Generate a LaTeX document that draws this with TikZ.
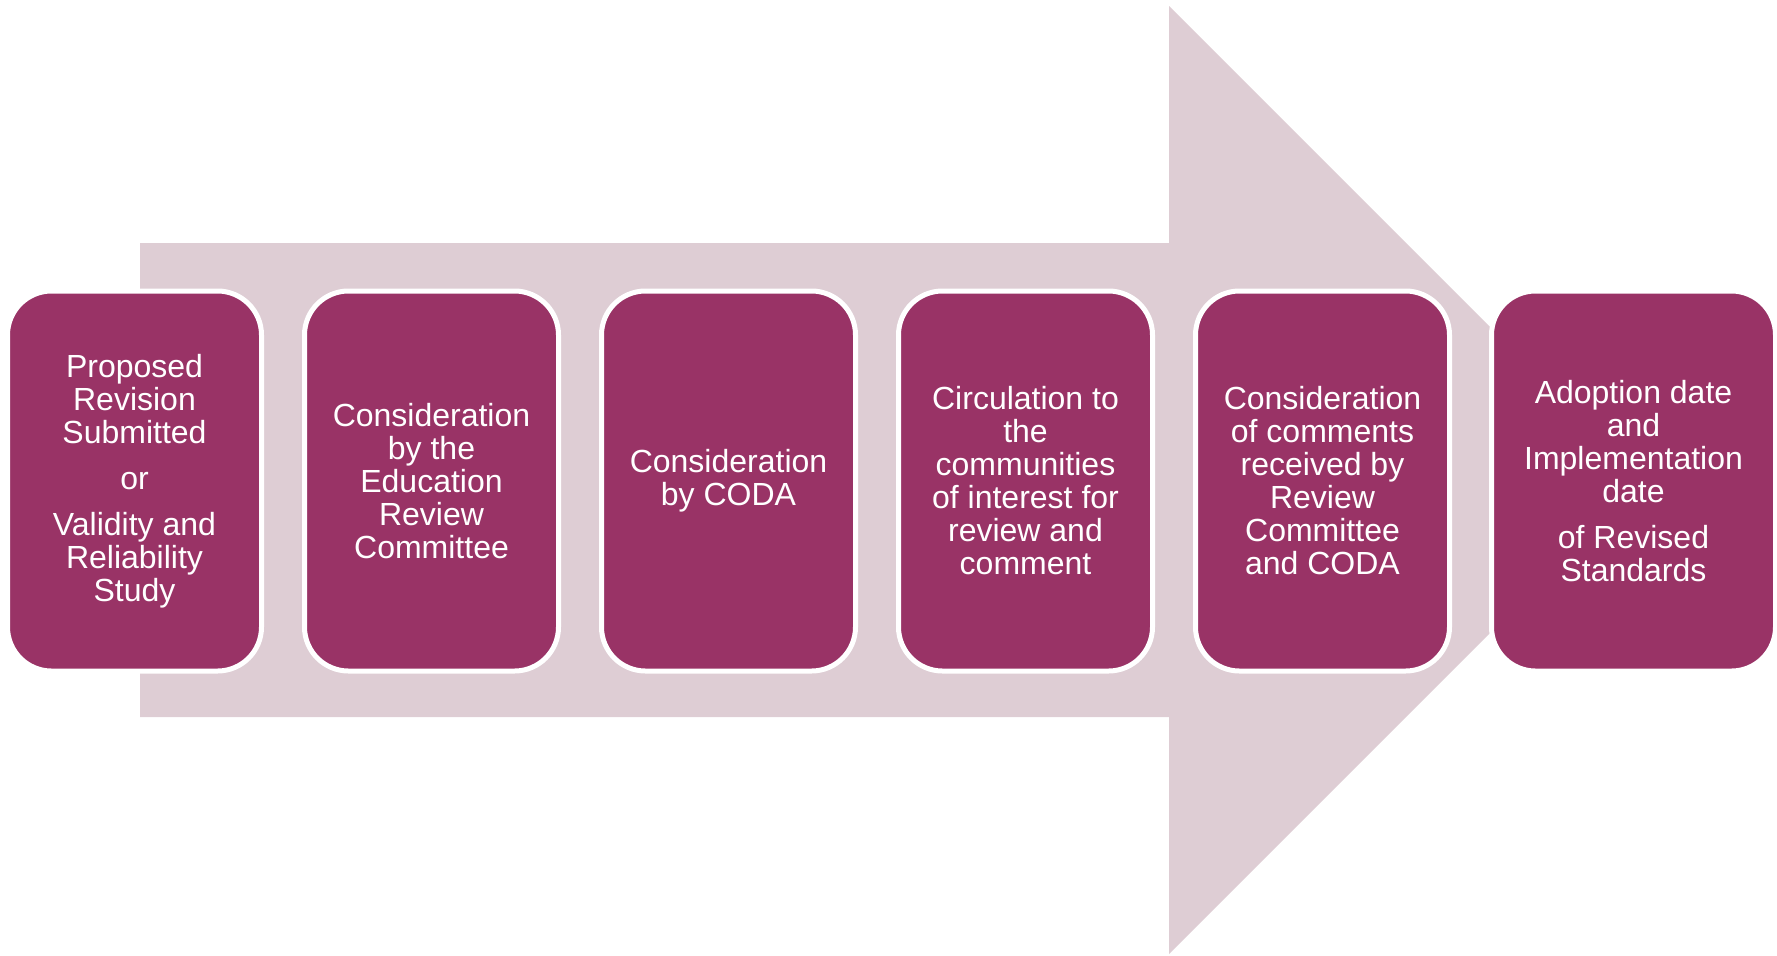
\documentclass[tikz,border=0pt]{standalone}
\usepackage{fontspec}
\setmainfont{Liberation Sans}
\definecolor{plum}{RGB}{153,51,102}
\definecolor{mist}{RGB}{222,205,212}

\begin{document}
\begin{tikzpicture}[x=0.5pt, y=-0.5pt,
        stage/.style={draw=white, line width=2.5pt, fill=plum, text=white,
                rounded corners=22pt, minimum width=127pt, minimum height=190pt,
                inner sep=0pt, align=center, font=\fontsize{16pt}{16.5pt}\selectfont},
        ]
        \useasboundingbox (0,0) rectangle (1777,955);

        % big arrow behind the steps
        \fill[mist] (140,243) -- (1169,243) -- (1169,6) -- (1643,480)
                -- (1169,954) -- (1169,717) -- (140,717) -- cycle;

        \node[stage] (proposal) at (134.5,481) {Proposed\\Revision\\Submitted\\[6.5pt]or\\[6.5pt]Validity and\\Reliability\\Study};
        \node[stage] (erc) at (431.5,481) {Consideration\\by the\\Education\\Review\\Committee};
        \node[stage] (coda) at (728.5,481) {Consideration\\by CODA};
        \node[stage] (circulation) at (1025.5,481) {Circulation to\\the\\communities\\of interest for\\review and\\comment};
        \node[stage] (comments) at (1322.5,481) {Consideration\\of comments\\received by\\Review\\Committee\\and CODA};
        \node[stage, minimum width=142pt] (adoption) at (1633.5,481) {Adoption date\\and\\Implementation\\date\\[6.5pt]of Revised\\Standards};

\end{tikzpicture}
\end{document}
